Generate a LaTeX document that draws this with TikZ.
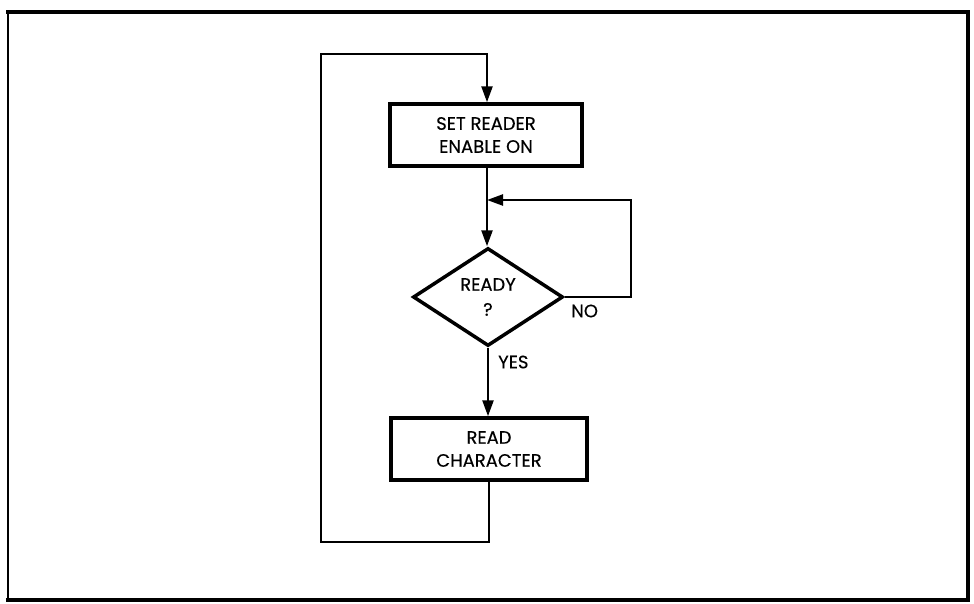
\documentclass[tikz,border=0pt]{standalone}
\usepackage{fontspec}
\setmainfont{Poppins}
\newfontfamily\medfont{Poppins}[FakeBold=0.35]
\usetikzlibrary{arrows.meta,shapes.geometric}
\begin{document}
\begin{tikzpicture}[x=1pt,y=-1pt,
  txt/.style={font=\medfont\fontsize{18}{23}\selectfont},
  box/.style={draw,line width=3.5pt,minimum width=192pt,minimum height=62pt,align=center,txt,inner sep=0pt},
  dec/.style={draw,diamond,aspect=1.53,line width=3.5pt,minimum width=150pt,minimum height=98pt,inner sep=0pt,align=center,font=\medfont\fontsize{18}{25}\selectfont},
  conn/.style={line width=2.4pt},
  arr/.style={conn,-{Triangle[length=16pt,width=11pt]}},
  lbl/.style={txt,inner sep=0pt}]
\useasboundingbox (0,0) rectangle (974,603);
% frame
\draw[line width=4pt] (6,12) -- (970,12);
\draw[line width=2.2pt] (8,11) -- (8,601);
\draw[line width=4pt] (968,11) -- (968,601);
\draw[line width=4pt] (6,599.5) -- (970,599.5);
% nodes
\node[box] (set) at (486,135) {SET READER\\ENABLE ON};
\node[dec] (ready) at (488,297) {READY\\?};
\node[box,minimum width=196pt] (read) at (489,449) {READ\\CHARACTER};
\coordinate (j) at (487,200);
\coordinate (tr) at (631,200);
\coordinate (br) at (631,297);
\coordinate (lb) at (489,542);
\coordinate (ll) at (321,542);
\coordinate (lt) at (321,54);
\coordinate (t) at (487,54);
% connectors
\draw[conn] (set.south -| j) -- (j);
\draw[arr] (j) -- (j |- ready.north);
\draw[arr] (ready.east) -- (br) -- (tr) -- (j);
\draw[arr] (ready.south) -- (ready.south |- read.north);
\draw[arr] (read.south -| lb) -- (lb) -- (ll) -- (lt) -- (t) -- (t |- set.north);
% labels
\node[lbl,anchor=west] (no) at (571,311) {NO};
\node[lbl,anchor=west] (yes) at (498,362) {YES};
\end{tikzpicture}
\end{document}
